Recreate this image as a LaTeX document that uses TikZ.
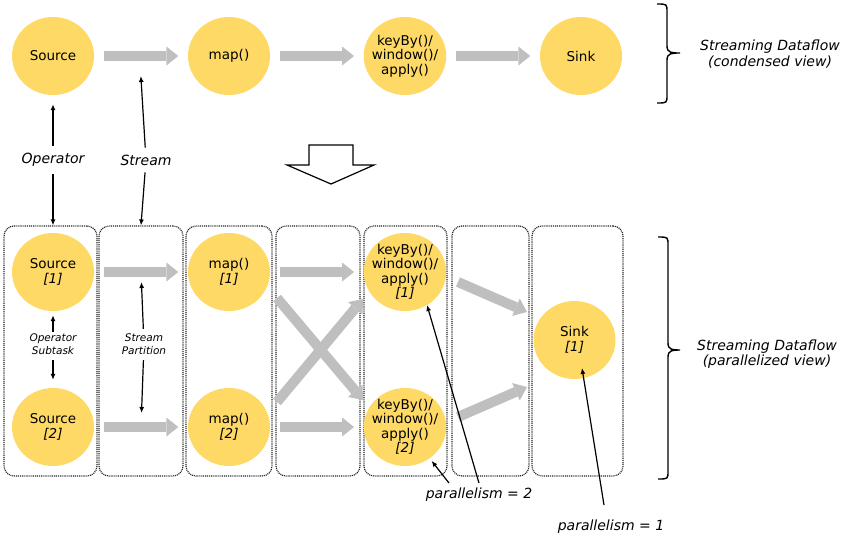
\documentclass[tikz,border=0pt]{standalone}
\usepackage{fontspec}
\setmainfont{DejaVu Sans}
\usetikzlibrary{arrows.meta,shapes.geometric}
\definecolor{opyellow}{HTML}{FED966}
\definecolor{flowgray}{HTML}{BFBFBF}

\begin{document}
\begin{tikzpicture}[x=1pt,y=-1pt,>={Latex[length=6pt,width=5pt]},
  op/.style={ellipse,fill=opyellow,minimum width=82pt,minimum height=78pt,inner sep=-4pt,align=center,font=\fontsize{13.5}{14.5}\selectfont},
  flow/.style={draw=flowgray,line width=10pt,shorten <=10pt,shorten >=9.5pt,-{Triangle[length=12pt,width=19pt,line width=0pt]}},
  ann/.style={->,line width=1.2pt},
  lbl/.style={font=\fontsize{14}{15.5}\selectfont\itshape,align=center,inner sep=1pt},
  small/.style={font=\fontsize{10.5}{13}\selectfont\itshape,align=center,inner sep=1pt},
  task/.style={draw=black!85,rounded corners=10pt,dash pattern=on 1pt off 0.9pt,line width=1.2pt,minimum height=250pt,inner sep=0pt}]
  \useasboundingbox (0,0) rectangle (844,550);
  % condensed view
  \node[op] (src) at (53,56) {Source};
  \node[op] (map) at (229,56) {map()};
  \node[op] (kb) at (405,56) {keyBy()/\\window()/\\apply()};
  \node[op] (sink) at (581,56) {Sink};
  \draw[flow] (src) -- (map);
  \draw[flow] (map) -- (kb);
  \draw[flow] (kb) -- (sink);
  \draw[line width=1.4pt] (657,4) .. controls (667,4) .. (667,12) -- (667,46) .. controls (667,53) and (672,53) .. (680,53)
    .. controls (672,53) and (667,53) .. (667,60) -- (667,95) .. controls (667,103) .. (657,103);
  \node[lbl] (cview) at (770,54) {Streaming Dataflow\\(condensed view)};
  % labels between views
  \node[lbl] (oplbl) at (53,160) {Operator};
  \node[lbl] (stlbl) at (146,160) {Stream};
  \coordinate (topflow) at (140,62);
  \draw[line width=1.2pt,fill=white] (309,145) -- (353,145) -- (353,165) -- (374,165) -- (331,184) -- (287,165) -- (309,165) -- cycle;
  % parallelized view
  \node[task,minimum width=93pt] (box1) at (50.5,351) {};
  \node[task,minimum width=84pt] (box2) at (141,351) {};
  \node[task,minimum width=86pt] (box3) at (229,351) {};
  \node[task,minimum width=84pt] (box4) at (318,351) {};
  \node[task,minimum width=83pt] (box5) at (405.5,351) {};
  \node[task,minimum width=77pt] (box6) at (490.5,351) {};
  \node[task,minimum width=91pt] (box7) at (577.5,351) {};
  \node[op] (src1) at (53,272) {Source\\\textit{[1]}};
  \node[op] (src2) at (53,427) {Source\\\textit{[2]}};
  \node[op] (map1) at (229,272) {map()\\\textit{[1]}};
  \node[op] (map2) at (229,427) {map()\\\textit{[2]}};
  \node[op] (kb1) at (405,272) {keyBy()/\\window()/\\apply()\\\textit{[1]}};
  \node[op] (kb2) at (405,427) {keyBy()/\\window()/\\apply()\\\textit{[2]}};
  \node[op] (sink1) at (574.5,340) {Sink\\\textit{[1]}};
  \draw[flow] (src1) -- (map1);
  \draw[flow] (src2) -- (map2);
  \draw[flow] (map1) -- (kb1);
  \draw[flow] (map2) -- (kb2);
  \draw[flow,shorten <=0pt,shorten >=0pt] ([shift={(48,26)}]map1.center) -- ([shift={(-42,-27)}]kb2.center);
  \draw[flow,shorten <=0pt,shorten >=0pt] ([shift={(48,-25)}]map2.center) -- ([shift={(-42,27)}]kb1.center);
  \draw[flow,shorten <=0pt,shorten >=0pt] ([shift={(53,10)}]kb1.center) -- ([shift={(-47.5,-28)}]sink1.center);
  \draw[flow,shorten <=0pt,shorten >=0pt] ([shift={(53,-10)}]kb2.center) -- ([shift={(-47.5,47)}]sink1.center);
  \draw[line width=1.4pt] (658,237) .. controls (668,237) .. (668,245) -- (668,343) .. controls (668,350) and (673,350) .. (680,350)
    .. controls (673,350) and (668,350) .. (668,357) -- (668,471) .. controls (668,479) .. (658,479);
  \node[lbl] (pview) at (767,354) {Streaming Dataflow\\(parallelized view)};
  % annotations
  \draw[ann,shorten <=6pt,shorten >=9pt] (oplbl) -- (src);
  \draw[ann,shorten <=6pt] (oplbl) -- (oplbl |- box1.north);
  \draw[ann,shorten <=6pt,shorten >=14pt] (stlbl) -- (topflow);
  \draw[ann,shorten <=6pt] (stlbl) -- ([xshift=-5pt]stlbl |- box2.north);
  \node[small] (opsub) at (53,344.5) {Operator\\Subtask};
  \coordinate (part1) at (141,272);
  \coordinate (part2) at (141,427);
  \node[small] (stpart) at (144,344.5) {Stream\\Partition};
  \draw[ann,shorten <=1pt,shorten >=4pt] (opsub) -- (src1);
  \draw[ann,shorten <=4pt,shorten >=8pt] (opsub) -- (src2);
  \draw[ann,shorten <=4pt,shorten >=10pt] (stpart) -- (part1);
  \draw[ann,shorten <=4pt,shorten >=14pt] (stpart) -- (part2);
  \node[lbl] (par2) at (479,495) {parallelism = 2};
  \node[lbl] (par1) at (611,527) {parallelism = 1};
  \draw[ann,shorten >=3pt] ([shift={(-30,-4)}]par2.north) -- (kb2);
  \draw[ann] ([shift={(0,-4)}]par2.north) -- ([shift={(22,33)}]kb1.center);
  \draw[ann] ([shift={(-7,-14)}]par1.north) -- ([shift={(7.5,28)}]sink1.center);
\end{tikzpicture}
\end{document}
